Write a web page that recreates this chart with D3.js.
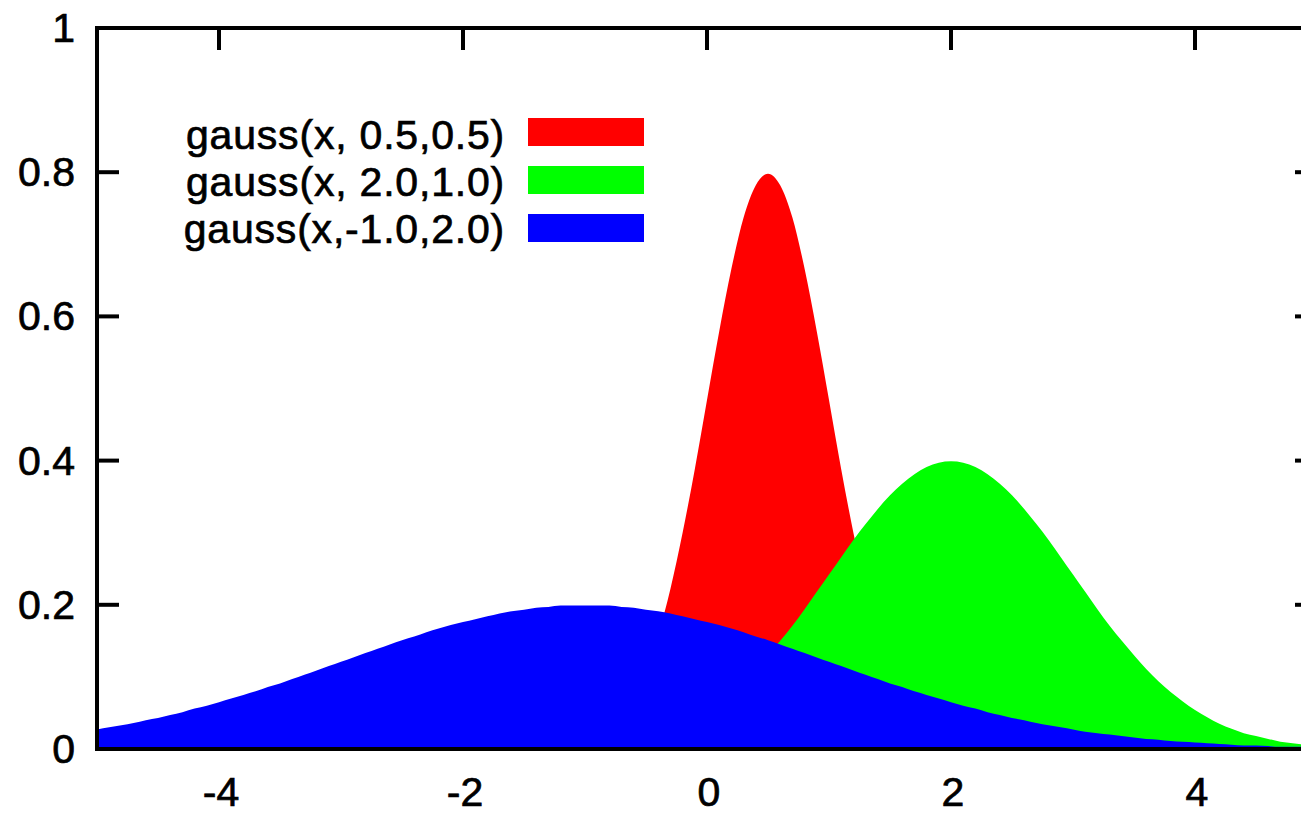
<!DOCTYPE html>
<html>
<head>
<meta charset="utf-8">
<script src="https://cdn.jsdelivr.net/npm/d3@7"></script>
<style>
  html, body { margin: 0; padding: 0; background: #fff; }
  svg { display: block; }
  text { font-family: "Liberation Sans", Arial, sans-serif; fill: #000; stroke: #000; stroke-width: 0.7px; }
</style>
</head>
<body>
<script>
// Sample positions along x (step 0.1)
const xs = [
  -5.0,-4.9,-4.8,-4.7,-4.6,-4.5,-4.4,-4.3,-4.2,-4.1,
  -4.0,-3.9,-3.8,-3.7,-3.6,-3.5,-3.4,-3.3,-3.2,-3.1,
  -3.0,-2.9,-2.8,-2.7,-2.6,-2.5,-2.4,-2.3,-2.2,-2.1,
  -2.0,-1.9,-1.8,-1.7,-1.6,-1.5,-1.4,-1.3,-1.2,-1.1,
  -1.0,-0.9,-0.8,-0.7,-0.6,-0.5,-0.4,-0.3,-0.2,-0.1,
   0.0, 0.1, 0.2, 0.3, 0.4, 0.5, 0.6, 0.7, 0.8, 0.9,
   1.0, 1.1, 1.2, 1.3, 1.4, 1.5, 1.6, 1.7, 1.8, 1.9,
   2.0, 2.1, 2.2, 2.3, 2.4, 2.5, 2.6, 2.7, 2.8, 2.9,
   3.0, 3.1, 3.2, 3.3, 3.4, 3.5, 3.6, 3.7, 3.8, 3.9,
   4.0, 4.1, 4.2, 4.3, 4.4, 4.5, 4.6, 4.7, 4.8, 4.9,
   5.0
];

// gauss(x, 0.5, 0.5)
const redValues = [
  0,0,0,0,0,0,0,0,0,0,
  0,0,0,0,0,0,0,0,0,0,
  0,0,0,0,0,0,0,0,0,0,
  0,0,0,0,0,0,.001,.001,.002,.005,
  .009,.016,.027,.045,.071,.108,.158,.222,.300,.388,
  .484,.579,.666,.737,.782,.798,.782,.737,.666,.579,
  .484,.388,.300,.222,.158,.108,.071,.045,.027,.016,
  .009,.005,.002,.001,.001,0,0,0,0,0,
  0,0,0,0,0,0,0,0,0,0,
  0,0,0,0,0,0,0,0,0,0,
  0
];

// gauss(x, 2.0, 1.0)
const greenValues = [
  0,0,0,0,0,0,0,0,0,0,
  0,0,0,0,0,0,0,0,0,0,
  0,0,0,0,0,0,0,0,0,0,
  0,0,0,0,.001,.001,.001,.002,.002,.003,
  .004,.006,.008,.010,.014,.018,.022,.028,.035,.044,
  .054,.066,.079,.094,.111,.130,.150,.171,.194,.218,
  .242,.266,.290,.312,.333,.352,.368,.381,.391,.397,
  .399,.397,.391,.381,.368,.352,.333,.312,.290,.266,
  .242,.218,.194,.171,.150,.130,.111,.094,.079,.066,
  .054,.044,.035,.028,.022,.018,.014,.010,.008,.006,
  .004
];

// gauss(x, -1.0, 2.0)
const blueValues = [
  .027,.030,.033,.036,.040,.043,.047,.051,.056,.060,
  .065,.070,.075,.080,.086,.091,.097,.103,.109,.115,
  .121,.127,.133,.139,.145,.151,.156,.162,.167,.172,
  .176,.180,.184,.188,.191,.193,.196,.197,.199,.199,
  .199,.199,.199,.197,.196,.193,.191,.188,.184,.180,
  .176,.172,.167,.162,.156,.151,.145,.139,.133,.127,
  .121,.115,.109,.103,.097,.091,.086,.080,.075,.070,
  .065,.060,.056,.051,.047,.043,.040,.036,.033,.030,
  .027,.024,.022,.020,.018,.016,.014,.013,.011,.010,
  .009,.008,.007,.006,.005,.005,.004,.003,.003,.003,
  .002
];

const seriesNames  = ["gauss(x, 0.5,0.5)", "gauss(x, 2.0,1.0)", "gauss(x,-1.0,2.0)"];
const seriesColors = ["#ff0000", "#00ff00", "#0000ff"];
const xTicks = [-4, -2, 0, 2, 4];
const xTickLabels = ["-4", "-2", "0", "2", "4"];
const yTicks = [0, 0.2, 0.4, 0.6, 0.8, 1];
const yTickLabels = ["0", "0.2", "0.4", "0.6", "0.8", "1"];

const width = 1301, height = 816;
const plot = { left: 97, right: 1317, top: 28, bottom: 749 };

const svg = d3.select("body").append("svg")
  .attr("width", width).attr("height", height);

const x = d3.scaleLinear().domain([-5, 5]).range([plot.left, plot.right]);
const y = d3.scaleLinear().domain([0, 1]).range([plot.bottom, plot.top]);

const tickLen = 22;
const fontSize = 41;

// Tick marks (behind the filled curves)
const ticks = svg.append("g").attr("stroke", "#000").attr("stroke-width", 4);
ticks.selectAll("line.yl").data(yTicks).join("line")
  .attr("x1", plot.left).attr("x2", plot.left + tickLen)
  .attr("y1", d => y(d)).attr("y2", d => y(d));
ticks.selectAll("line.yr").data(yTicks).join("line")
  .attr("x1", plot.right).attr("x2", plot.right - tickLen)
  .attr("y1", d => y(d)).attr("y2", d => y(d));
ticks.selectAll("line.xb").data(xTicks).join("line")
  .attr("x1", d => x(d)).attr("x2", d => x(d))
  .attr("y1", plot.bottom).attr("y2", plot.bottom - tickLen);
ticks.selectAll("line.xt").data(xTicks).join("line")
  .attr("x1", d => x(d)).attr("x2", d => x(d))
  .attr("y1", plot.top).attr("y2", plot.top + tickLen);

// Filled curves, drawn in order so later series sit on top
const series = [redValues, greenValues, blueValues];
const area = d3.area()
  .x((d, i) => x(xs[i]))
  .y0(y(0))
  .y1(d => y(d))
  .curve(d3.curveMonotoneX);

svg.append("clipPath").attr("id", "plot-clip")
  .append("rect")
  .attr("x", plot.left).attr("y", plot.top)
  .attr("width", plot.right - plot.left).attr("height", plot.bottom - plot.top);

svg.append("g").attr("clip-path", "url(#plot-clip)")
  .selectAll("path").data(series).join("path")
  .attr("d", d => area(d))
  .attr("fill", (d, i) => seriesColors[i])
  .attr("stroke", "none");

// Border
svg.append("rect")
  .attr("x", plot.left).attr("y", plot.top)
  .attr("width", plot.right - plot.left).attr("height", plot.bottom - plot.top)
  .attr("fill", "none").attr("stroke", "#000").attr("stroke-width", 4);

// Y tick labels
svg.append("g").selectAll("text").data(yTicks).join("text")
  .attr("x", 75).attr("y", d => y(d) + 14)
  .attr("text-anchor", "end")
  .attr("font-size", fontSize)
  .text((d, i) => yTickLabels[i]);

// X tick labels
svg.append("g").selectAll("text").data(xTicks).join("text")
  .attr("x", d => x(d) + 2).attr("y", 806)
  .attr("text-anchor", "middle")
  .attr("font-size", fontSize)
  .text((d, i) => xTickLabels[i]);

// Legend
const legend = svg.append("g");
const legendRows = [0, 1, 2];
legend.selectAll("text").data(legendRows).join("text")
  .attr("x", 505).attr("y", i => 149 + i * 47)
  .attr("text-anchor", "end")
  .attr("font-size", fontSize)
  .attr("letter-spacing", 0.8)
  .text(i => seriesNames[i]);
legend.selectAll("rect").data(legendRows).join("rect")
  .attr("x", 528).attr("y", i => 118 + i * 48)
  .attr("width", 116).attr("height", 28)
  .attr("fill", i => seriesColors[i]);
</script>
</body>
</html>
